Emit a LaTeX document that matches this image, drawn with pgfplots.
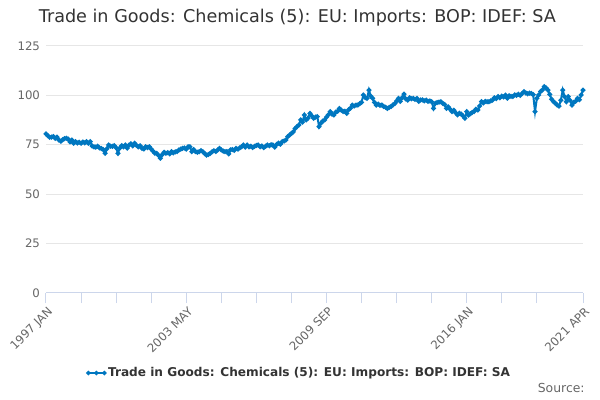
\documentclass[border=0pt]{standalone}
\usepackage{fontspec}
\setmainfont{DejaVu Sans}
\usepackage{pgfplots}
\pgfplotsset{compat=1.18}
\definecolor{series}{RGB}{0,119,192}
\definecolor{gridc}{RGB}{230,230,230}
\definecolor{axisc}{RGB}{204,214,235}
\definecolor{labc}{RGB}{102,102,102}
\definecolor{titc}{RGB}{51,51,51}
\begin{document}
\begin{tikzpicture}[x=1pt,y=1pt]
\path[use as bounding box] (0,0) rectangle (450,300);
\node[font=\fontsize{13.2}{15}\selectfont, text=titc, anchor=center] at (223,286.5) {Trade in Goods: Chemicals (5): EU: Imports: BOP: IDEF: SA};
\node[font=\fontsize{9.3}{11}\selectfont, text=labc, anchor=east] at (442,9) {Source:};
\begin{axis}[
  at={(34.5pt,80.25pt)}, anchor=south west,
  scale only axis, width=402.75pt, height=185.25pt,
  xmin=0, xmax=291, ymin=0, ymax=125,
  axis x line*=bottom, axis y line*=left,
  x axis line style={axisc, line width=0.75pt, -},
  y axis line style={draw=none},
  ytick={0,25,50,75,100,125},
  ymajorgrids, grid style={gridc, line width=0.75pt},
  xtick={0,19,38,57,76,95,114,133,152,171,190,209,228,247,266,291},
  xticklabels={1997 JAN,,,,2003 MAY,,,,2009 SEP,,,,2016 JAN,,,2021 APR},
  xtick style={axisc, line width=0.75pt},
  major tick length=7.5pt,
  xtick align=outside,
  ytick style={draw=none},
  x tick label style={rotate=45, anchor=north east, font=\fontsize{8.8}{10}\selectfont, text=labc, inner sep=1pt, yshift=-1pt},
  y tick label style={font=\fontsize{8.8}{10}\selectfont, text=labc, anchor=east, xshift=-1pt},
  yticklabel={\pgfmathprintnumber{\tick}},
  /pgf/number format/assume math mode=true,
  legend style={at={(0.473,-0.324)}, anchor=center, draw=none, fill=none, font=\bfseries\fontsize{9.1}{11}\selectfont, text=titc},
  legend image code/.code={\draw[#1, line width=1.5pt, mark=*, mark size=0.8pt] plot coordinates {(0pt,0pt) (6pt,0pt) (12pt,0pt)};},
]
\addplot[color=series, line width=1.5pt, mark=*, mark size=1pt, mark options={solid}] table[x expr=\coordindex, y index=0, header=false] {
80.5
79.6
78.8
78.9
79.2
78.3
78.9
77.4
76.8
77.6
78.1
78.3
77.9
76.5
77.4
75.8
76.6
75.9
76.3
75.8
76.4
76.0
76.6
75.8
76.6
74.4
74.0
73.8
74.3
73.4
73.1
72.6
70.7
73.0
74.9
74.3
74.2
74.6
73.5
70.7
73.4
74.6
74.0
74.9
73.3
74.8
75.5
74.4
75.8
74.8
73.9
74.5
73.2
72.9
74.0
73.6
74.0
72.8
71.8
70.7
70.7
69.6
68.2
70.0
71.2
70.7
71.0
70.4
71.6
70.9
71.4
71.6
72.4
72.8
73.2
73.4
72.8
74.0
74.0
71.5
72.6
71.6
71.2
71.5
72.0
71.5
70.5
69.8
70.1
70.6
71.5
72.0
71.6
72.4
73.2
72.4
71.8
71.5
71.6
70.4
72.4
72.6
72.2
73.2
72.8
73.5
74.0
74.9
73.8
74.9
74.0
74.3
73.6
74.2
74.7
74.9
74.0
74.4
73.6
74.3
74.9
74.5
75.0
74.9
73.8
75.2
75.8
75.3
76.6
76.9
77.4
79.1
80.0
80.8
81.5
83.3
84.2
85.0
87.6
86.5
90.1
87.6
88.5
90.9
89.6
88.4
89.0
89.3
84.2
86.0
87.0
87.6
89.0
90.2
91.8
90.5
90.1
91.5
92.0
93.4
92.5
91.8
92.0
90.9
92.8
93.5
95.1
94.6
95.1
95.1
95.8
96.5
100.2
98.9
98.5
102.7
99.6
98.5
96.5
95.1
95.6
95.0
95.1
94.4
94.0
93.4
93.9
94.4
95.2
95.9
97.2
98.5
97.0
98.8
100.6
98.2
97.6
98.8
98.3
98.5
98.0
98.5
97.0
97.7
97.7
97.2
97.6
97.0
97.2
96.8
93.4
96.0
96.4
96.6
96.8
96.0
95.4
93.4
94.2
93.0
91.8
92.5
91.2
90.1
91.0
90.5
89.6
88.4
91.8
90.0
90.8
91.4
91.8
93.0
92.6
94.6
96.8
96.2
97.0
96.8
96.8
97.2
97.6
98.8
98.4
99.4
98.8
99.6
99.2
100.2
98.6
99.8
99.5
99.4
100.3
100.0
100.6
100.0
101.0
101.9
101.2
100.8
101.2
101.0
100.4
91.8
98.5
100.2
102.0
102.8
104.4
103.8
102.7
100.5
98.0
96.8
96.0
95.1
94.6
97.5
102.7
99.4
96.8
99.4
97.5
95.1
96.5
97.0
98.5
97.8
100.2
102.7
};
\addlegendentry{Trade in Goods: Chemicals (5): EU: Imports: BOP: IDEF: SA}
\end{axis}
\end{tikzpicture}
\end{document}
